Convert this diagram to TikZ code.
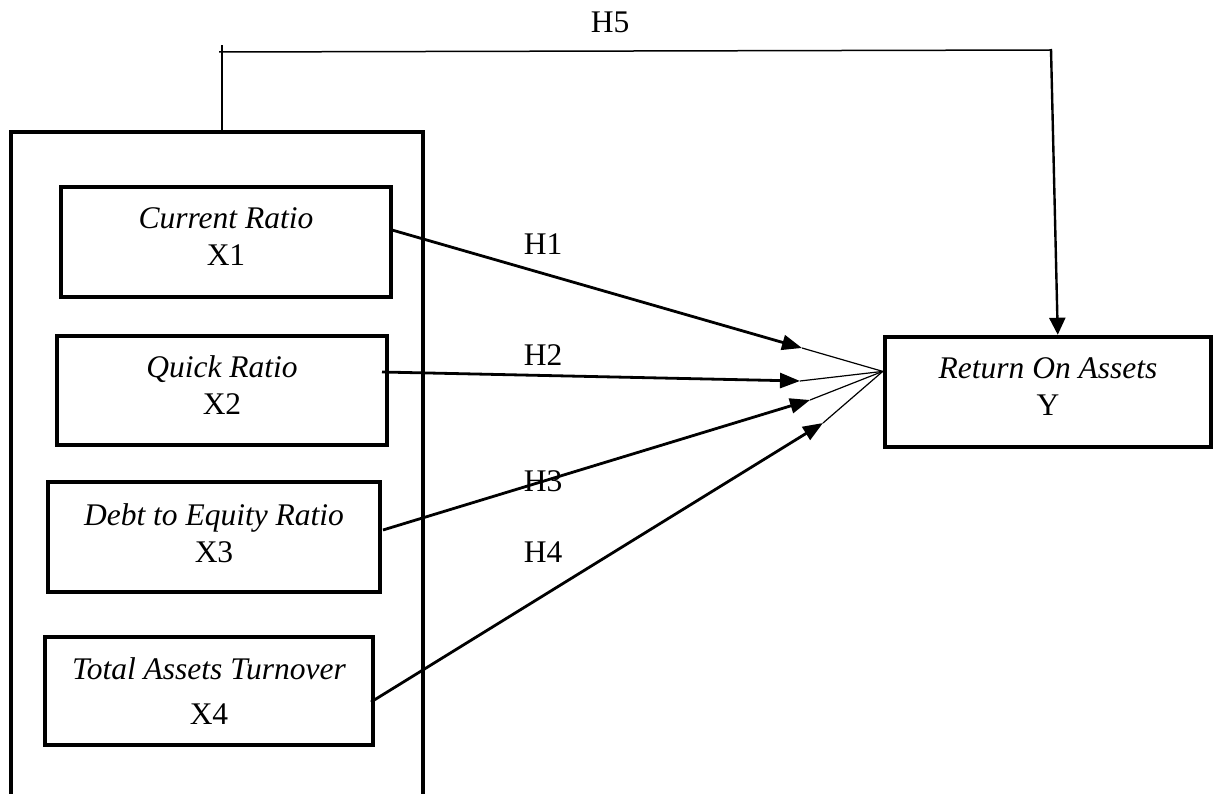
\documentclass[tikz,border=0pt]{standalone}
\usepackage{fontspec}
\setmainfont{Liberation Serif}
\usetikzlibrary{arrows.meta,calc}
\begin{document}
\begin{tikzpicture}[x=1pt,y=-1pt,
  box/.style={draw,line width=4.5pt,inner sep=0pt},
  txt/.style={inner sep=0pt,align=center,font=\fontsize{31.5}{37}\selectfont},
  lbl/.style={font=\fontsize{31.5}{37}\selectfont,inner sep=0pt},
  arr/.style={line width=2.8pt,-{Triangle[length=20pt,width=15pt]}},
  thinline/.style={line width=1.2pt},
  hline/.style={line width=1.5pt}]
\clip (0,0) rectangle (1221,794);
\useasboundingbox (0,0) rectangle (1221,794);
% outer frame (its bottom runs off the page)
\node[box,minimum width=412pt,minimum height=720pt] (frame) at (217,492) {};
% predictor boxes
\node[box,minimum width=330pt,minimum height=110pt] (b1) at (226,242) {};
\node[txt] (b1t) at ($(b1.center)+(0,-5)$) {\textit{Current Ratio}\\X1};
\node[box,minimum width=330pt,minimum height=109pt] (b2) at (222,390.5) {};
\node[txt] (b2t) at ($(b2.center)+(0,-5)$) {\textit{Quick Ratio}\\X2};
\node[box,minimum width=332pt,minimum height=110pt] (b3) at (214,537) {};
\node[txt] (b3t) at ($(b3.center)+(0,-4)$) {\textit{Debt to Equity Ratio}\\X3};
\node[box,minimum width=328pt,minimum height=108pt] (b4) at (209,691) {};
\node[txt] (b4t) at (b4.center) {\textit{Total Assets Turnover}\\[8pt]X4};
% outcome box
\node[box,minimum width=326pt,minimum height=110pt] (y) at (1048,392) {};
\node[txt] (yt) at ($(y.center)+(0,-5)$) {\textit{Return On Assets}\\Y};
% coordinates
\coordinate (s1) at (392,230);
\coordinate (s2) at (382,372);
\coordinate (s3) at (383,530);
\coordinate (s4) at (371,702);
\coordinate (t1) at (802,348);
\coordinate (t2) at (800,381);
\coordinate (t3) at (810,400);
\coordinate (t4) at (823,423);
\coordinate (c) at ($(y.north west)!0.32!(y.south west)$);
% arrows
\draw[arr] (s1) -- (t1);
\draw[arr] (s2) -- (t2);
\draw[arr] (s3) -- (t3);
\draw[arr] (s4) -- (t4);
\draw[thinline] (t1) -- (c);
\draw[thinline] (t2) -- (c);
\draw[thinline] (t3) -- (c);
\draw[thinline] (t4) -- (c);
% H5 path
\coordinate (h5b) at (222,132);
\coordinate (h5t) at (222,45);
\coordinate (h5l) at (219,52);
\coordinate (h5r) at (1051,50);
\coordinate (h5d) at (1051,49);
\coordinate (yin) at ($(y.north west)+(175,0)$);
\draw[hline] (h5b) -- (h5t);
\draw[hline] (h5l) -- (h5r);
\draw[line width=2.4pt,-{Triangle[length=17pt,width=16pt]}] (h5d) -- (yin);
% labels
\node[lbl] (l5) at (610,22) {H5};
\node[lbl] (l1) at (543,244) {H1};
\node[lbl] (l2) at (543,355) {H2};
\node[lbl] (l3) at (543,481) {H3};
\node[lbl] (l4) at (543,552) {H4};
\end{tikzpicture}
\end{document}
